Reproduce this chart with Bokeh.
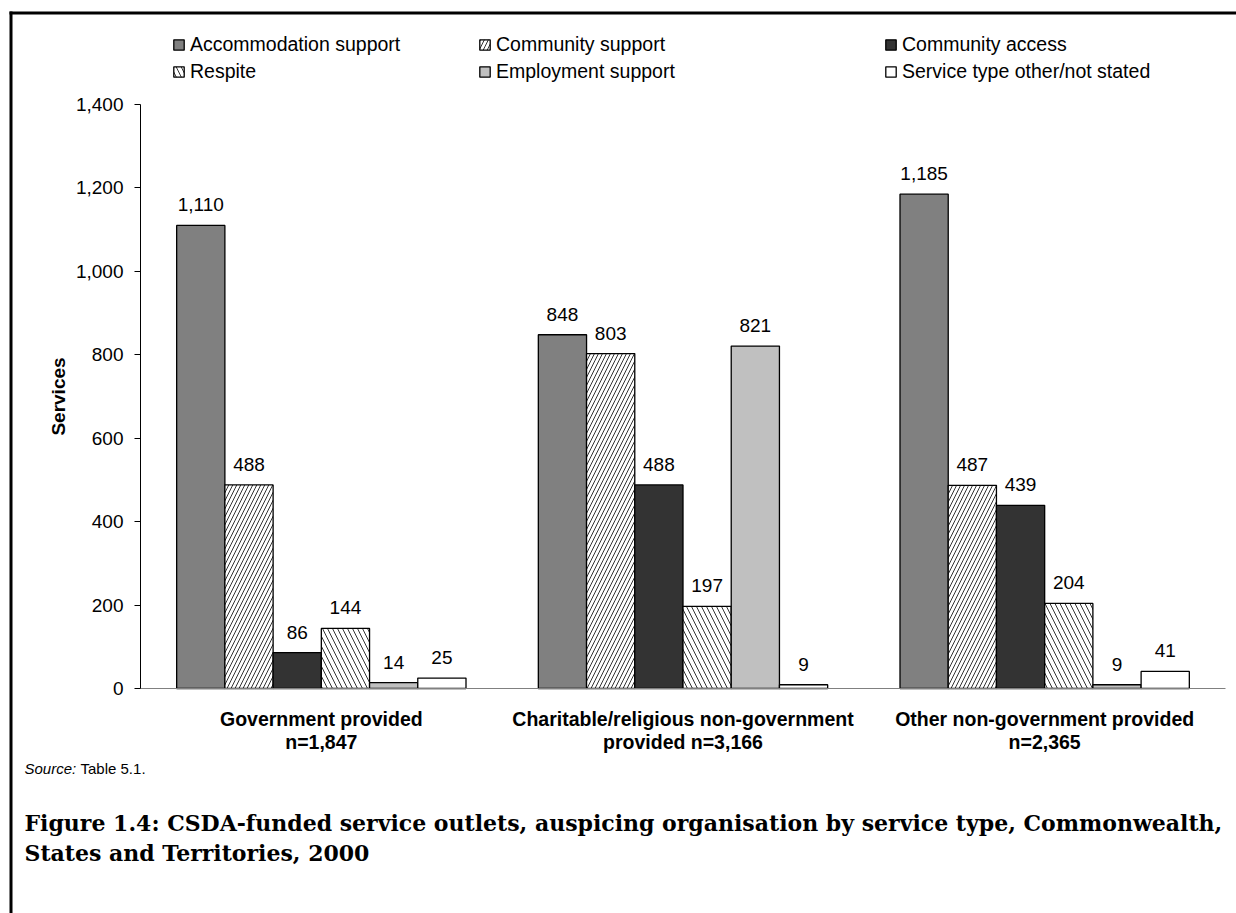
from bokeh.plotting import figure
from bokeh.models import (Range1d, ColumnDataSource, Legend, LegendItem, Label,
                          BoxAnnotation, NumeralTickFormatter, FixedTicker, LinearAxis)
from bokeh.transform import dodge
from bokeh.core.properties import value
from bokeh.embed import file_html
from bokeh.resources import INLINE

# ---------------- data ----------------
categories = ["Government provided\nn=1,847",
              "Charitable/religious non-government\nprovided n=3,166",
              "Other non-government provided\nn=2,365"]
series_names = ["Accommodation support", "Community support", "Community access",
                "Respite", "Employment support", "Service type other/not stated"]
accommodation_support = [1110, 848, 1185]
community_support = [488, 803, 487]
community_access = [86, 488, 439]
respite = [144, 197, 204]
employment_support = [14, 821, 9]
other_not_stated = [25, 9, 41]
y_ticks = [0, 200, 400, 600, 800, 1000, 1200, 1400]

series_values = [accommodation_support, community_support, community_access,
                 respite, employment_support, other_not_stated]
fills = ["#808080", "#ffffff", "#333333", "#ffffff", "#c0c0c0", "#ffffff"]
hatches = [None, "/", None, "\\", None, None]
hatch_scales = [None, 8, None, 10, None, None]

FONT = "Liberation Sans"

# geometry (screen px): plot area inside the whole canvas
W, H = 1236, 913
FL, FR, FT, FB = 140, 1225, 104, 688
YMAX = 1400
NC = len(categories)
cw = (FR - FL) / NC                 # px per category
py = (FB - FT) / YMAX               # px per unit

x_range = Range1d(-FL / cw, NC + (W - FR) / cw)
y_range = Range1d(-(H - FB) / py, FB / py)

p = figure(width=W, height=H, x_range=x_range, y_range=y_range,
           x_axis_location=None, y_axis_location=None,
           output_backend="svg", toolbar_location=None,
           min_border=0, min_border_left=0, min_border_right=0,
           min_border_top=0, min_border_bottom=0)
p.outline_line_color = None
p.xgrid.visible = False
p.ygrid.visible = False
p.background_fill_color = "white"
p.border_fill_color = "white"

xc = [i + 0.5 for i in range(NC)]
src = ColumnDataSource(dict(xc=xc, **{f"s{i}": v for i, v in enumerate(series_values)},
                            **{f"t{i}": [f"{x:,}" for x in v] for i, v in enumerate(series_values)}))

n = len(series_names)
bw = 1 / 7.5
renderers = []
for i in range(n):
    off = (i - (n - 1) / 2) * bw
    kw = {}
    if hatches[i]:
        kw = dict(hatch_pattern=hatches[i], hatch_color="black", hatch_scale=hatch_scales[i],
                  hatch_weight=0.8)
    r = p.vbar(x=dodge("xc", off), top=f"s{i}", width=bw, source=src,
               fill_color=fills[i], line_color="black", line_width=1.3, **kw)
    renderers.append(r)
    p.text(x=dodge("xc", off), y=f"s{i}", text=f"t{i}", source=src,
           text_align="center", text_baseline="bottom", y_offset=-14,
           text_font=value(FONT), text_font_size="19px", text_color="black")

# y axis
ya = LinearAxis(fixed_location=0, bounds=(0, YMAX))
ya.ticker = FixedTicker(ticks=y_ticks)
ya.formatter = NumeralTickFormatter(format="0,0")
ya.major_tick_out = 6
ya.major_tick_in = 0
ya.minor_tick_line_color = None
ya.axis_line_color = "black"
ya.major_tick_line_color = "black"
ya.major_label_text_font = FONT
ya.major_label_text_font_size = "19px"
ya.major_label_text_color = "black"
ya.major_label_standoff = 11
ya.axis_label = "Services"
ya.axis_label_text_font = FONT
ya.axis_label_text_font_style = "bold"
ya.axis_label_text_font_size = "19px"
ya.axis_label_text_color = "black"
ya.axis_label_standoff = 4
p.add_layout(ya, "left")

# x (category) axis
xa = LinearAxis(fixed_location=0, bounds=(0, NC))
xa.ticker = FixedTicker(ticks=xc)
xa.major_label_overrides = {x: c for x, c in zip(xc, categories)}
xa.axis_line_color = "#808080"
xa.major_tick_line_color = None
xa.minor_tick_line_color = None
xa.major_label_text_font = FONT
xa.major_label_text_font_style = "bold"
xa.major_label_text_font_size = "19.5px"
xa.major_label_text_color = "black"
xa.major_label_text_line_height = 1.05
xa.major_label_standoff = 13
p.add_layout(xa, "below")

# legends: three columns of two items
cols = [(0, 3, 172), (1, 4, 478), (2, 5, 884)]
for a, b, x0 in cols:
    lg = Legend(items=[LegendItem(label=series_names[a], renderers=[renderers[a]]),
                       LegendItem(label=series_names[b], renderers=[renderers[b]])],
                location=(x0, H - 83), orientation="vertical",
                padding=0, margin=0, spacing=4, glyph_width=13, glyph_height=13,
                label_standoff=5, label_text_font=FONT, label_text_font_size="19.5px",
                label_text_color="black", label_height=22,
                border_line_color=None, background_fill_alpha=0)
    p.add_layout(lg, "center")

# border lines (top and left)
p.add_layout(BoxAnnotation(left=9, right=W, top=H - 11, bottom=H - 14,
                           left_units="screen", right_units="screen", top_units="screen",
                           bottom_units="screen", fill_color="black", fill_alpha=1,
                           line_color=None))
p.add_layout(BoxAnnotation(left=9, right=12, top=H - 11, bottom=0,
                           left_units="screen", right_units="screen", top_units="screen",
                           bottom_units="screen", fill_color="black", fill_alpha=1,
                           line_color=None))

# source and caption
p.add_layout(Label(x=24, y=H - 768, x_units="screen", y_units="screen", text="Source:",
                   text_font=FONT, text_font_style="italic", text_font_size="15px",
                   text_baseline="middle", text_color="black"))
p.add_layout(Label(x=80, y=H - 768, x_units="screen", y_units="screen", text="Table 5.1.",
                   text_font=FONT, text_font_size="15px", text_baseline="middle",
                   text_color="black"))
p.add_layout(Label(x=24, y=H - 822, x_units="screen", y_units="screen",
                   text="Figure 1.4: CSDA-funded service outlets, auspicing organisation by service type, Commonwealth,",
                   text_font="DejaVu Serif", text_font_style="bold", text_font_size="22px",
                   text_baseline="middle", text_color="black"))
p.add_layout(Label(x=24, y=H - 852, x_units="screen", y_units="screen",
                   text="States and Territories, 2000",
                   text_font="DejaVu Serif", text_font_style="bold", text_font_size="22px",
                   text_baseline="middle", text_color="black"))

open("out.html", "w").write(file_html(p, INLINE))
